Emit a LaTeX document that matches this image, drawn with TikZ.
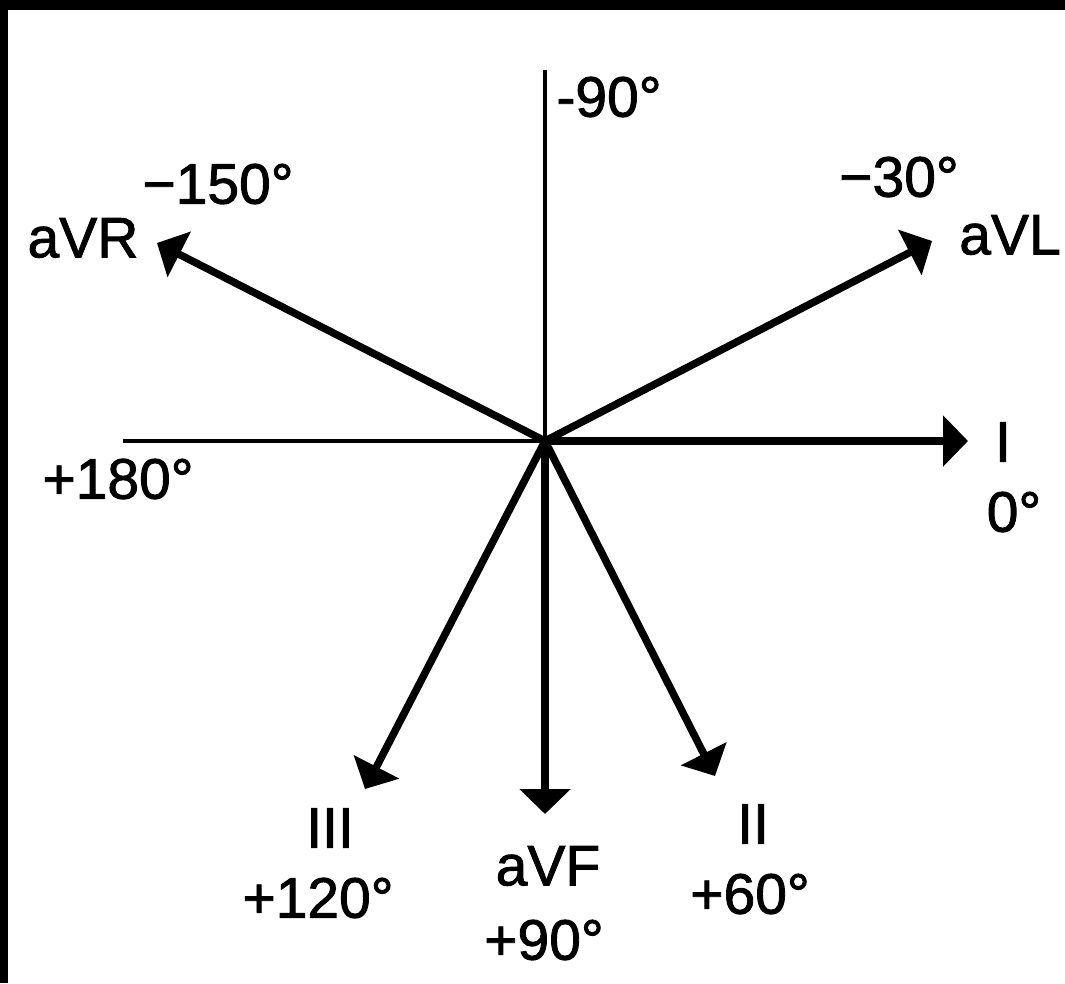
\documentclass[tikz,border=0pt]{standalone}
\usepackage{fontspec}
\setmainfont{Liberation Sans}
\newfontfamily\lblfont[FakeBold=1.5]{Liberation Sans}
\usetikzlibrary{arrows.meta}
\begin{document}
\begin{tikzpicture}[x=1pt,y=-1pt,
  lbl/.style={inner sep=0pt, anchor=center, font=\lblfont\fontsize{57}{60}\selectfont},
  axisline/.style={line width=4.5pt},
  vec/.style={line width=7.5pt, -{Triangle[length=25pt,width=50pt]}}]
\useasboundingbox (0,0) rectangle (1065,983);
\fill[white] (0,0) rectangle (1065,983);
\fill[black] (0,0) rectangle (1065,10);
\fill[black] (0,0) rectangle (8,983);
% centre and end points
\coordinate (o) at (545,441);
\coordinate (top) at (545,70);
\coordinate (left) at (123,441);
\coordinate (tI) at (968,441);
\coordinate (tL) at (932,241);
\coordinate (tR) at (157,243);
\coordinate (tII) at (715,776);
\coordinate (tIII) at (365,789);
\coordinate (tF) at (545,814);
% axes
\draw[axisline] (top) -- (o);
\draw[axisline] (left) -- (o);
% vectors
\draw[vec] (o) -- (tI);
\draw[vec] (o) -- (tL);
\draw[vec] (o) -- (tR);
\draw[vec] (o) -- (tII);
\draw[vec] (o) -- (tIII);
\draw[vec] (o) -- (tF);
% labels
\node[lbl] (m90) at (609,97) {-90°};
\node[lbl] (m150) at (218,184) {−150°};
\node[lbl] (aVR) at (83,238) {aVR};
\node[lbl] (m30) at (899,177) {−30°};
\node[lbl] (aVL) at (1010,235) {aVL};
\node[lbl] (I) at (1003,442) {I};
\node[lbl] (z) at (1014,512) {0°};
\node[lbl] (p180) at (118,479) {+180°};
\node[lbl] (III) at (330,828) {III};
\node[lbl] (p120) at (318,898) {+120°};
\node[lbl] (aVF) at (548,866) {aVF};
\node[lbl] (p90) at (544,940) {+90°};
\node[lbl] (II) at (753,824) {II};
\node[lbl] (p60) at (750,894) {+60°};
\end{tikzpicture}
\end{document}
